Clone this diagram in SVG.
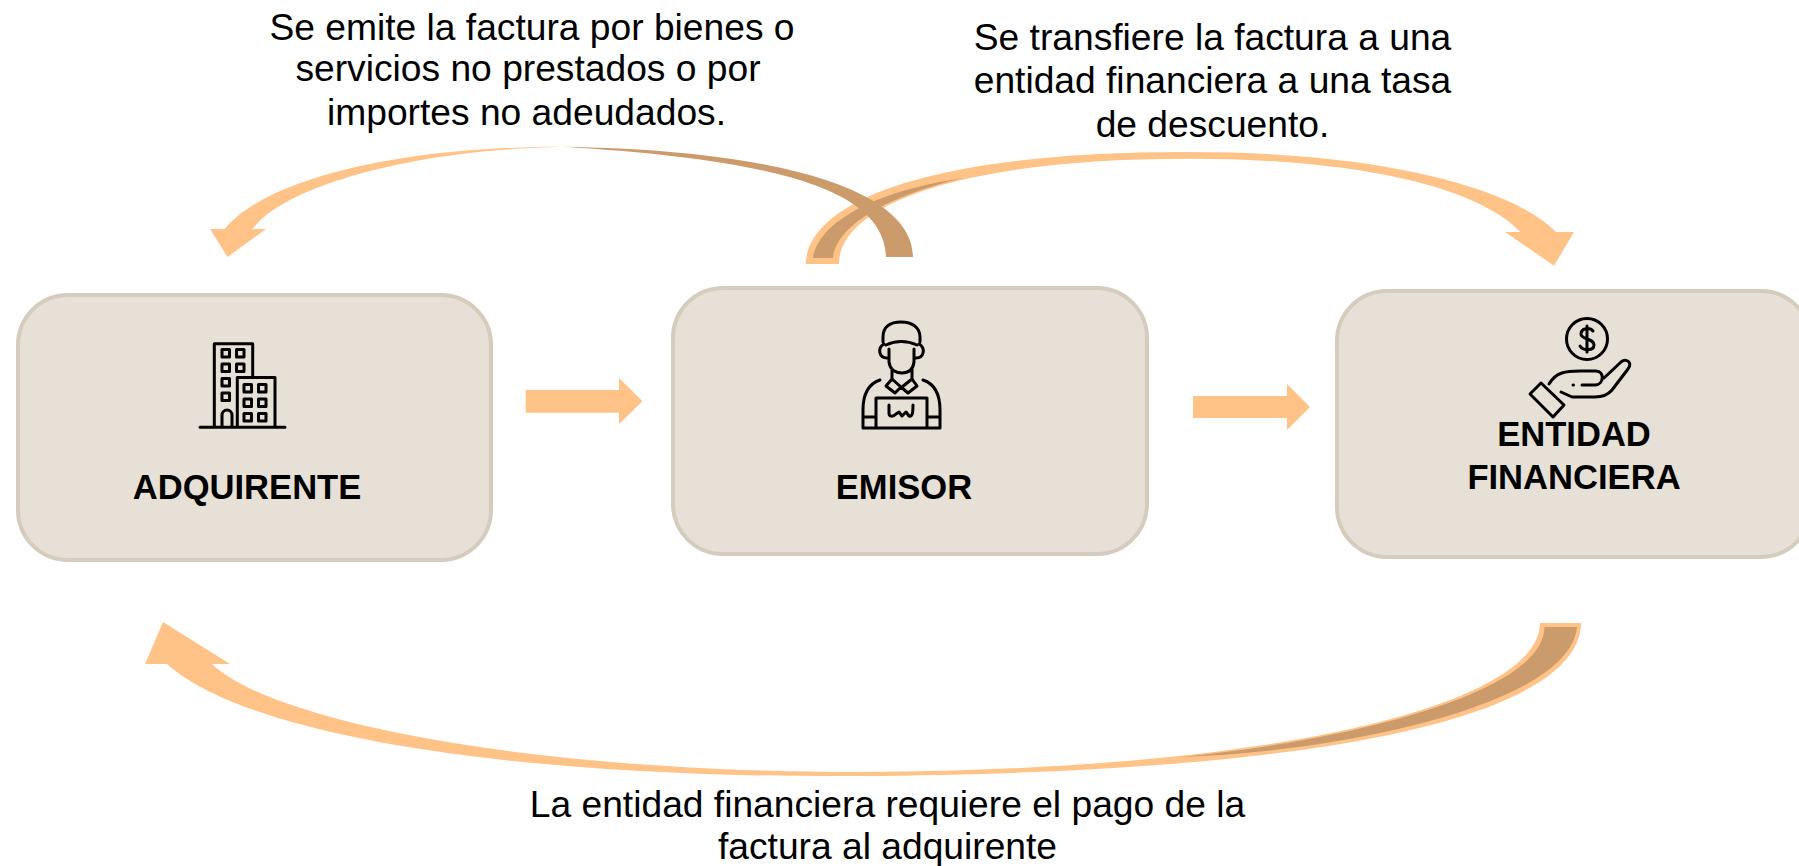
<svg xmlns="http://www.w3.org/2000/svg" width="1799" height="866" viewBox="0 0 1799 866">
<style>
text{font-family:"Liberation Sans",Arial,sans-serif;fill:#000;text-anchor:middle}
.t{font-size:37.2px}
.b{font-size:34.6px;font-weight:700}
.box{fill:#e7e0d6;stroke:#d6ccbd;stroke-width:4}
.a{fill:#ffc388}
.d{fill:#cb9b6c}
.i{fill:none;stroke:#000;stroke-width:3;stroke-linecap:round;stroke-linejoin:round}
</style>
<rect width="1799" height="866" fill="#fff"/>
<g id="connectors">
<path class="a" d="M525.7 390H619V378L642.5 401.3L619 424V412.7H525.7Z"/>
<path class="a" d="M1193 396H1287V384L1310 407L1287 430V418H1193Z"/>
<path class="a" d="M806 264C806 215 890 152 1188 152C1390 152 1515 190 1556 232H1574L1554 265.700L1505 232H1520.600C1480 190 1370 158.700 1188 158.700C960 158.700 839 205 839 264Z"/>
<path class="d" d="M813 258C819 220 880 190 963.500 178C890 195 836 225 833 258Z"/>
<path class="a" d="M563 146.700C380 146.700 260 185 224.600 229H210L227.500 257L266 229H252.700C280 190 400 150 563 146.700Z"/>
<path class="d" d="M563 146.700C780 150 913 190 913 257H886C884 190 780 160 563 146.700Z"/>
<path class="a" d="M1540 623C1540 700 1300 770 860 772C520 772 270 720 212 664H230L163 622L145 664H167C240 730 480 778 860 776C1440 772 1581 690 1581 623Z"/>
<path class="d" d="M1544.500 627C1544 695 1340 742 1180 757C1340 752 1570 705 1577 627Z"/>
</g>
<g id="adquirente">
<rect class="box" x="18" y="295" width="473" height="265" rx="50"/>
<path class="i" d="M214.300 426.700V343.700H252.700V377.500M237.300 426.700V377.500H275V426.700M200 427.300H285"/>
<path class="i" d="M222 349.500h7.500v7.500h-7.500zM236.500 349.500h7.500v7.500h-7.500zM222 364h7.500v7.500h-7.500zM236.500 364h7.500v7.500h-7.500zM222 378.500h7.500v7.500h-7.500zM222 393h7.500v7.500h-7.500zM244 384.500h7.500v7.500h-7.500zM258.500 384.500h7.500v7.500h-7.500zM244 399h7.500v7.500h-7.500zM258.500 399h7.500v7.500h-7.500zM244 413.500h7.500v7.500h-7.500zM258.500 413.500h7.500v7.500h-7.500zM222 426.700V415a5 5 0 0 1 10 0V426.700"/>
<text class="b" x="247" y="499">ADQUIRENTE</text>
</g>
<g id="emisor">
<rect class="box" x="673" y="288" width="474" height="266" rx="50"/>
<path class="i" d="M883 342V337C883 327 890 322 901 322C913 322 920 328 920 337V342M886 345Q901 338 917 345M884 344C877 348 879 358 887 358M919 344C926 348 924 358 916 358M889 349V362C890 370 896 373 902 373C908 373 913 370 914 362V349M892 369V379L901 387M912 369V379L902 387M892 379L886 386L895 393L901 387L908 393L917 386L912 379M880 380C868 384 863 395 863 410V428H940V410C940 395 935 384 923 380M876 428V398H927V428M863 417H876M927 417H940M889 405V413C889 417 893 417 896 414L899 412L902 416L906 412L909 416C912 417 913 414 913 405"/>
<text class="b" x="904" y="499">EMISOR</text>
</g>
<g id="entidad-financiera">
<rect class="box" x="1337" y="291" width="474" height="266" rx="50"/>
<circle class="i" cx="1587" cy="339" r="20.500"/>
<path class="i" d="M1593 331C1590 327 1581 328 1581 334C1581 340 1594 338 1594 345C1594 351 1583 351 1580 346M1587 326V352"/>
<path class="i" d="M1549 384C1556 372 1566 371 1580 371H1596C1605 371 1604 385 1595 385H1582M1604 378L1621 362C1626 358 1633 362 1628 369L1612 390C1607 396 1600 397 1595 397H1572L1561 392M1573 385h.5M1541 383L1530 394L1553 417L1564 405Z"/>
<text class="b" x="1574" y="446">ENTIDAD</text>
<text class="b" x="1574" y="489">FINANCIERA</text>
</g>
<g id="labels">
<text class="t" x="532" y="39.500">Se emite la factura por bienes o</text>
<text class="t" x="528" y="80.500">servicios no prestados o por</text>
<text class="t" x="526.500" y="125">importes no adeudados.</text>
<text class="t" x="1212.500" y="50">Se transfiere la factura a una</text>
<text class="t" x="1212.500" y="93">entidad financiera a una tasa</text>
<text class="t" x="1212.500" y="137">de descuento.</text>
<text class="t" x="887.500" y="817">La entidad financiera requiere el pago de la</text>
<text class="t" x="887.500" y="859">factura al adquirente</text>
</g>
</svg>
